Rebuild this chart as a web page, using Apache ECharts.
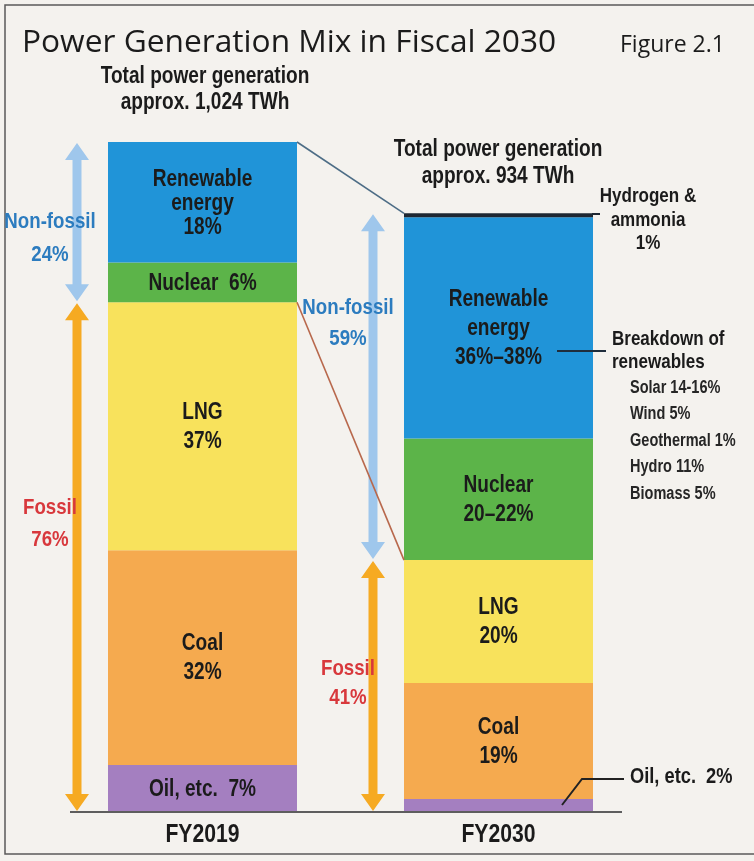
<!DOCTYPE html>
<html>
<head>
<meta charset="utf-8">
<script src="https://cdn.jsdelivr.net/npm/echarts@6/dist/echarts.min.js"></script>
<style>
html,body{margin:0;padding:0;background:#f8f8f7;}
#chart{width:754px;height:861px;}
</style>
</head>
<body>
<div id="chart"></div>
<script>
// ---- data (in TWh-equivalent bar height) ----
const categories = ['FY2019', 'FY2030'];
const oil        = [72, 20];
const coal       = [328, 177];
const lng        = [379, 188];
const nuclear    = [61, 186];
const renewable  = [184, 338];
const hydrogen   = [0, 6];

const oilLabels       = ['Oil, etc.  7%', ''];
const coalLabels      = ['Coal\n32%', 'Coal\n19%'];
const lngLabels       = ['LNG\n37%', 'LNG\n20%'];
const nuclearLabels   = ['Nuclear  6%', 'Nuclear\n20–22%'];
const renewableLabels = ['Renewable\nenergy\n18%', 'Renewable\nenergy\n36%–38%'];

const totalLabels     = ['Total power generation\napprox. 1,024 TWh', 'Total power generation\napprox. 934 TWh'];
const nonFossilLabels = ['Non-fossil\n24%', 'Non-fossil\n59%'];
const fossilLabels    = ['Fossil\n76%', 'Fossil\n41%'];
const hydrogenNote    = 'Hydrogen &\nammonia\n1%';
const breakdownTitle  = 'Breakdown of\nrenewables';
const breakdownItems  = ['Solar 14-16%', 'Wind 5%', 'Geothermal 1%', 'Hydro 11%', 'Biomass 5%'];
const oilNote         = 'Oil, etc.  2%';
const titleText       = 'Power Generation Mix in Fiscal 2030';
const figureText      = 'Figure 2.1';

// ---- derived stack boundaries ----
const stackValues = [oil, coal, lng, nuclear, renewable];
const stackLabels = [oilLabels, coalLabels, lngLabels, nuclearLabels, renewableLabels];
const fossilTop = categories.map((c, i) => oil[i] + coal[i] + lng[i]);
const totalTop  = categories.map((c, i) => fossilTop[i] + nuclear[i] + renewable[i] + hydrogen[i]);

const SANS = '"Liberation Sans", Arial, sans-serif';
const SX = 0.83; // horizontal condensing of the label face
const BAR_W = 189;
const C = {
  renewable: '#2094d8', nuclear: '#5cb449', lng: '#f8e25c', coal: '#f5aa4f', oil: '#a47fc0', hydrogen: '#1e2732',
  blueArrow: '#9fc7ec', orangeArrow: '#f6aa22', blueText: '#2c7cbf', redText: '#d8383c', ink: '#1b1b1b'
};

const chart = echarts.init(document.getElementById('chart'), null, {renderer: 'canvas'});

function barSeries(name, values, color) {
  return {
    name, type: 'bar', stack: 'total', barWidth: BAR_W, animation: false,
    itemStyle: {color}, emphasis: {disabled: true}, label: {show: false},
    data: values
  };
}

// segment label data: [category index, segment bottom, segment top, label id]
const labelTexts = [];
const labelData = [];
categories.forEach((c, i) => {
  let base = 0;
  stackValues.forEach((arr, k) => {
    const t = stackLabels[k][i];
    if (t) {
      labelTexts.push(t);
      labelData.push([i, base, base + arr[i], labelTexts.length - 1]);
    }
    base += arr[i];
  });
});

function condensedText(x, y, text, size, lh, extra) {
  return {
    type: 'text', x, y, scaleX: SX,
    style: Object.assign({
      text, x: 0, y: 0, fill: C.ink, fontFamily: SANS, fontWeight: 'bold', fontSize: size, lineHeight: lh,
      align: 'center', verticalAlign: 'middle', textAlign: 'center', textVerticalAlign: 'middle'
    }, extra || {})
  };
}

function renderSegLabel(params, api) {
  const cat = api.value(0), b = api.value(1), t = api.value(2), id = api.value(3);
  const p = api.coord([cat, (b + t) / 2]);
  const text = labelTexts[id];
  const lh = (cat === 0 && text.indexOf('Renewable') === 0) ? 24 : 29;
  return condensedText(p[0], p[1] + 1, text, 23, lh);
}

function renderCatLabel(params, api) {
  const cat = api.value(0);
  const p = api.coord([cat, 0]);
  return condensedText(p[0], p[1] + 23, categories[cat], 25.5, 28);
}

function renderArrow(params, api) {
  const cat = api.value(0), v0 = api.value(1), v1 = api.value(2);
  const col = api.value(3) === 0 ? C.blueArrow : C.orangeArrow;
  const pt = api.coord([cat, v1]), pb = api.coord([cat, v0]);
  const x = pt[0] - BAR_W / 2 - 31;
  const top = pt[1] + 1, bot = pb[1] - 1;
  const hw = 12, hl = 17, sw = 4.5;
  return {
    type: 'polygon',
    shape: {points: [[x, top], [x + hw, top + hl], [x + sw, top + hl], [x + sw, bot - hl], [x + hw, bot - hl],
      [x, bot], [x - hw, bot - hl], [x - sw, bot - hl], [x - sw, top + hl], [x - hw, top + hl]]},
    style: {fill: col}
  };
}

function renderConnector(params, api) {
  const a = api.coord([api.value(0), api.value(1)]);
  const b = api.coord([api.value(2), api.value(3)]);
  const col = params.dataIndex === 0 ? '#4d6d86' : '#b8684c';
  return {
    type: 'line',
    shape: {x1: a[0] + BAR_W / 2, y1: a[1], x2: b[0] - BAR_W / 2, y2: b[1]},
    style: {stroke: col, lineWidth: 1.6}
  };
}

const arrowData = [];
categories.forEach((c, i) => {
  arrowData.push([i, fossilTop[i], totalTop[i], 0]);
  arrowData.push([i, 0, fossilTop[i], 1]);
});
const connectorData = [
  [0, totalTop[0], 1, totalTop[1]],
  [0, fossilTop[0], 1, fossilTop[1]]
];
const catData = categories.map((c, i) => [i, 0]);

function txt(text, x, y, opts, sx) {
  return {
    type: 'text', z: 100, x, y, scaleX: sx === undefined ? SX : sx,
    style: Object.assign({
      text, x: 0, y: 0, fill: C.ink, fontFamily: SANS, fontWeight: 'bold', fontSize: 23,
      textAlign: 'center', align: 'center', textVerticalAlign: 'middle', verticalAlign: 'middle'
    }, opts || {})
  };
}
function line(x1, y1, x2, y2, stroke, w) {
  return {type: 'line', z: 90, shape: {x1, y1, x2, y2}, style: {stroke, lineWidth: w || 2}};
}

const option = {
  backgroundColor: '#f4f2ee',
  animation: false,
  grid: {left: 54.5, right: 107.5, top: 142, bottom: 49, containLabel: false},
  xAxis: {
    type: 'category', data: categories,
    axisLine: {show: false}, axisTick: {show: false}, splitLine: {show: false},
    axisLabel: {show: false}
  },
  yAxis: {type: 'value', min: 0, max: totalTop[0], show: false, splitLine: {show: false}},
  series: [
    barSeries('Oil, etc.', oil, C.oil),
    barSeries('Coal', coal, C.coal),
    barSeries('LNG', lng, C.lng),
    barSeries('Nuclear', nuclear, C.nuclear),
    barSeries('Renewable energy', renewable, C.renewable),
    barSeries('Hydrogen & ammonia', hydrogen, C.hydrogen),
    {type: 'custom', renderItem: renderArrow, data: arrowData, z: 3, silent: true, animation: false, clip: false},
    {type: 'custom', renderItem: renderConnector, data: connectorData, z: 3, silent: true, animation: false, clip: false},
    {type: 'custom', renderItem: renderSegLabel, data: labelData, z: 5, silent: true, animation: false, clip: false},
    {type: 'custom', renderItem: renderCatLabel, data: catData, z: 5, silent: true, animation: false, clip: false}
  ],
  graphic: {
    elements: [
      {type: 'rect', z: -10, shape: {x: 5, y: 5, width: 760, height: 849}, style: {fill: 'none', stroke: '#5a5a5a', lineWidth: 1.5}},
      line(70, 812, 622, 812, '#5e5e5e', 2),
      txt(titleText, 22, 43, {fontFamily: '"Open Sans", sans-serif', fontWeight: 'normal', fontSize: 31.7, textAlign: 'left', align: 'left'}, 1),
      txt(figureText, 620, 45, {fontFamily: '"Open Sans", sans-serif', fontWeight: 'normal', fontSize: 23, textAlign: 'left', align: 'left'}, 1),
      txt(totalLabels[0], 205, 90, {fontSize: 23, lineHeight: 26}),
      txt(totalLabels[1], 498, 163, {fontSize: 23, lineHeight: 27}),
      txt(hydrogenNote, 648, 220, {fontSize: 20.5, lineHeight: 23.5}),
      txt(breakdownTitle, 612, 351, {fontSize: 20.5, lineHeight: 23, textAlign: 'left', align: 'left'}),
      txt(breakdownItems.join('\n'), 630, 441, {fontSize: 17.5, lineHeight: 26.5, textAlign: 'left', align: 'left', fill: '#262626'}, 0.83),
      txt(oilNote, 630, 777, {fontSize: 22, textAlign: 'left', align: 'left'}),
      txt(nonFossilLabels[0], 50, 238, {fontSize: 22.5, lineHeight: 33, fill: C.blueText}),
      txt(nonFossilLabels[1], 348, 323, {fontSize: 22.5, lineHeight: 31, fill: C.blueText}),
      txt(fossilLabels[0], 50, 524, {fontSize: 22.5, lineHeight: 32, fill: C.redText}),
      txt(fossilLabels[1], 348, 683, {fontSize: 22.5, lineHeight: 29, fill: C.redText}),
      line(557, 351, 606, 351, '#1f2d3c', 2),
      {type: 'polyline', z: 90, shape: {points: [[562, 805], [582, 779], [624, 779]]}, style: {stroke: '#222', lineWidth: 2, fill: 'none'}},
      line(592, 214, 600, 214, '#1e2732', 2)
    ]
  }
};
chart.setOption(option);
</script>
</body>
</html>
